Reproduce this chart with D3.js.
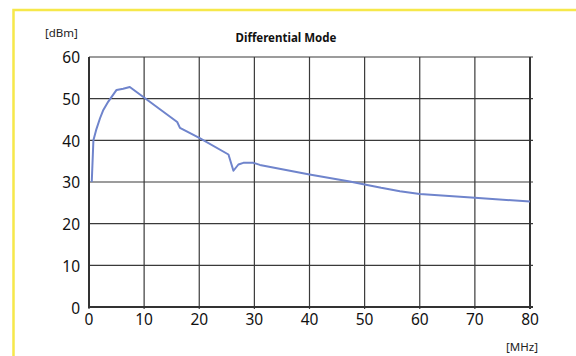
<!DOCTYPE html>
<html><head><meta charset="utf-8">
<script src="https://cdn.jsdelivr.net/npm/d3@7"></script>
<style>body{margin:0;background:#fff}svg{display:block}</style>
</head><body>
<svg id="c" width="576" height="356"></svg>
<script>
const freqMHz = [0.5, 0.8, 1.3, 2.0, 2.6, 3.5, 5.0, 6.2, 7.4, 16.0, 16.5, 20.0, 25.3, 26.2, 27.1, 28.0, 29.8, 31.0, 40.0, 47.3, 50.0, 53.0, 56.4, 60.0, 70.0, 80.0];
const levelDbm = [30, 40, 42.5, 45.3, 47.3, 49.3, 52.1, 52.4, 52.8, 44.4, 43.0, 40.6, 36.6, 32.7, 34.2, 34.6, 34.6, 34.1, 31.8, 30.1, 29.4, 28.6, 27.8, 27.1, 26.2, 25.3];
const xTicks = [0, 10, 20, 30, 40, 50, 60, 70, 80];
const yTicks = [0, 10, 20, 30, 40, 50, 60];
const title = "Differential Mode";
const yUnit = "[dBm]";
const xUnit = "[MHz]";

const svg = d3.select("#c");
const font = "'Noto Sans', 'Open Sans', sans-serif";
const x = d3.scaleLinear().domain([0, 80]).range([89, 530]);
const y = d3.scaleLinear().domain([0, 60]).range([307, 57]);

// yellow frame
svg.append("rect").attr("x", 13.5).attr("y", 10).attr("width", 600).attr("height", 400)
  .attr("fill", "none").attr("stroke", "#f6e84a").attr("stroke-width", 2.5);

// grid
const g = svg.append("g");
g.selectAll("line.h").data(yTicks).join("line")
  .attr("x1", x(0)).attr("x2", x(80) + 3)
  .attr("y1", d => y(d)).attr("y2", d => y(d))
  .attr("stroke", "#3a3a3a").attr("stroke-width", 1.2);
g.selectAll("line.v").data(xTicks).join("line")
  .attr("x1", d => x(d)).attr("x2", d => x(d))
  .attr("y1", y(60)).attr("y2", y(0) + 2)
  .attr("stroke", "#3a3a3a").attr("stroke-width", 1.2);
// axes
g.append("line").attr("x1", x(0)).attr("x2", x(0)).attr("y1", y(60)).attr("y2", y(0) + 1)
  .attr("stroke", "#333").attr("stroke-width", 2);
g.append("line").attr("x1", x(0)).attr("x2", x(80) + 3).attr("y1", y(0)).attr("y2", y(0))
  .attr("stroke", "#333").attr("stroke-width", 2);
g.append("line").attr("x1", x(80)).attr("x2", x(80)).attr("y1", y(60)).attr("y2", y(0) + 2)
  .attr("stroke", "#333").attr("stroke-width", 2);

// tick labels
svg.selectAll("text.yt").data(yTicks).join("text")
  .attr("x", 80).attr("y", d => y(d) + (d === 0 ? 2 : 1)).attr("dy", "0.35em")
  .attr("text-anchor", "end").attr("font-family", font).attr("font-size", 15.5).attr("fill", "#111")
  .text(d => d);
svg.selectAll("text.xt").data(xTicks).join("text")
  .attr("x", d => x(d)).attr("y", 320).attr("dy", "0.35em")
  .attr("text-anchor", "middle").attr("font-family", font).attr("font-size", 15.5).attr("fill", "#111")
  .text(d => d);

svg.append("text").attr("x", 45).attr("y", 33).attr("dy", "0.35em")
  .attr("font-family", font).attr("font-size", 11.5).attr("fill", "#222").text(yUnit);
svg.append("text").attr("x", 538).attr("y", 347).attr("dy", "0.35em").attr("text-anchor", "end")
  .attr("font-family", font).attr("font-size", 11.5).attr("fill", "#222").text(xUnit);
svg.append("text").attr("x", 286).attr("y", 38).attr("dy", "0.35em").attr("text-anchor", "middle")
  .attr("font-family", font).attr("font-size", 11.5).attr("font-weight", "bold").attr("fill", "#111").text(title);

// curve
const pts = freqMHz.map((f, i) => [f, levelDbm[i]]);
svg.append("path").datum(pts)
  .attr("d", d3.line().x(d => x(d[0])).y(d => y(d[1])).curve(d3.curveLinear))
  .attr("fill", "none").attr("stroke", "#6f84cc").attr("stroke-width", 2)
  .attr("stroke-linejoin", "round");
</script>
</body></html>
